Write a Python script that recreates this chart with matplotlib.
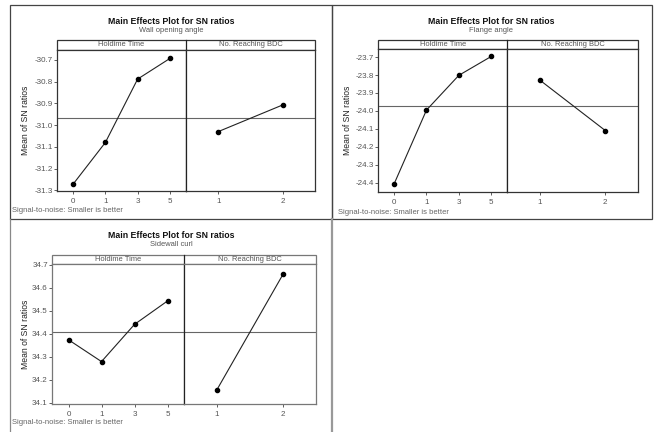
import numpy as np
import matplotlib.pyplot as plt
from matplotlib.patches import Rectangle

plt.rcParams['font.family'] = ['Liberation Sans', 'DejaVu Sans']
plt.rcParams['axes.unicode_minus'] = False

W, H = 657, 432

holdime_levels = ['0', '1', '3', '5']
bdc_levels = ['1', '2']

# SN ratio means per factor level
wall_holdime = [-31.272, -31.08, -30.788, -30.693]
wall_bdc = [-31.03, -30.907]
wall_mean = -30.965

flange_holdime = [-24.405, -23.995, -23.802, -23.697]
flange_bdc = [-23.829, -24.109]
flange_mean = -23.972

curl_holdime = [34.374, 34.279, 34.441, 34.543]
curl_bdc = [34.157, 34.659]
curl_mean = 34.41

wall_ticks = [-31.3, -31.2, -31.1, -31.0, -30.9, -30.8, -30.7]
flange_ticks = [-24.4, -24.3, -24.2, -24.1, -24.0, -23.9, -23.8, -23.7]
curl_ticks = [34.1, 34.2, 34.3, 34.4, 34.5, 34.6, 34.7]

TXT = '#555555'
FRAME = '#333333'


def rect(l, t, r, b):
    return [l / W, 1 - b / H, (r - l) / W, (b - t) / H]


fig = plt.figure(figsize=(W / 100, H / 100), dpi=100)
bg = fig.add_axes([0, 0, 1, 1])
bg.set_xlim(0, W)
bg.set_ylim(H, 0)
bg.axis('off')

# outer frames of the three graphs
bg.add_patch(Rectangle((10, 5), 322, 214, fill=False, ec='#444444', lw=0.9))
bg.add_patch(Rectangle((332, 5), 320, 214, fill=False, ec='#444444', lw=0.9))
bg.plot([10, 10], [219, 432], color='#888888', lw=0.9)
bg.plot([332, 332], [219, 432], color='#999999', lw=1.6)


def draw_panel(box, split, strip_top, ylim, yticks, hold, bdc, mean,
               subtitle, title_x, title_y, ylab_x, foot_x, foot_y, frame):
    l, t, r, b = box
    ax1 = fig.add_axes(rect(l, t, split, b))
    ax2 = fig.add_axes(rect(split, t, r, b))
    for ax in (ax1, ax2):
        ax.set_ylim(*ylim)
        ax.axhline(mean, color='#666666', lw=0.8, zorder=1)
        for s in ax.spines.values():
            s.set_color(frame)
            s.set_linewidth(0.9)
        ax.tick_params(axis='x', length=2, width=0.6, color='#444444',
                       labelsize=5.8, labelcolor=TXT, pad=3)
    ax2.spines['left'].set_color('#222222')
    ax1.set_xlim(-0.5, len(hold) - 0.5)
    ax1.set_xticks(range(len(hold)))
    ax1.set_xticklabels(holdime_levels)
    ax2.set_xlim(-0.5, len(bdc) - 0.5)
    ax2.set_xticks(range(len(bdc)))
    ax2.set_xticklabels(bdc_levels)
    ax2.set_yticks([])

    ax1.set_yticks(yticks)
    ax1.set_yticklabels(['%.1f' % v for v in yticks])
    ax1.tick_params(axis='y', length=2, width=0.6, color='#444444',
                    labelsize=5.8, labelcolor=TXT, pad=1)

    ax1.plot(range(len(hold)), hold, color='#222222', lw=0.8,
             marker='o', ms=3, mfc='black', mec='black', zorder=3)
    ax2.plot(range(len(bdc)), bdc, color='#222222', lw=0.8,
             marker='o', ms=3, mfc='black', mec='black', zorder=3)

    # strip with factor names
    bg.add_patch(Rectangle((l, strip_top), r - l, t - strip_top,
                           fill=False, ec=frame, lw=0.9))
    bg.plot([split, split], [strip_top, t], color='#222222', lw=0.9)
    sm = (strip_top + t) / 2
    bg.text((l + split) / 2, sm, 'Holdime Time', ha='center', va='center',
            fontsize=5.4, color=TXT)
    bg.text((split + r) / 2, sm, 'No. Reaching BDC', ha='center',
            va='center', fontsize=5.4, color=TXT)

    bg.text(title_x, title_y, 'Main Effects Plot for SN ratios',
            ha='center', va='center', fontsize=6.3, fontweight='bold',
            color='#111111')
    bg.text(title_x, title_y + 10, subtitle, ha='center', va='center',
            fontsize=5.4, color=TXT)
    bg.text(ylab_x, (t + b) / 2, 'Mean of SN ratios', rotation=90,
            ha='center', va='center', fontsize=6.2, color='#222222')
    bg.text(foot_x, foot_y, 'Signal-to-noise: Smaller is better',
            ha='left', va='center', fontsize=5.5, color='#666666')


draw_panel((57, 50, 315, 191.3), 186, 40, (-31.305, -30.654), wall_ticks,
           wall_holdime, wall_bdc, wall_mean, 'Wall opening angle',
           171, 21, 25, 12, 211, FRAME)
draw_panel((378, 49.3, 638, 191.7), 507.3, 40, (-24.449, -23.657),
           flange_ticks, flange_holdime, flange_bdc, flange_mean,
           'Flange angle', 491, 21, 347, 338, 213, FRAME)
draw_panel((52, 264, 316, 404.3), 184, 255, (34.093, 34.704), curl_ticks,
           curl_holdime, curl_bdc, curl_mean, 'Sidewall curl',
           171, 235, 25, 12, 423, '#777777')

fig.savefig('out.png', dpi=100)
